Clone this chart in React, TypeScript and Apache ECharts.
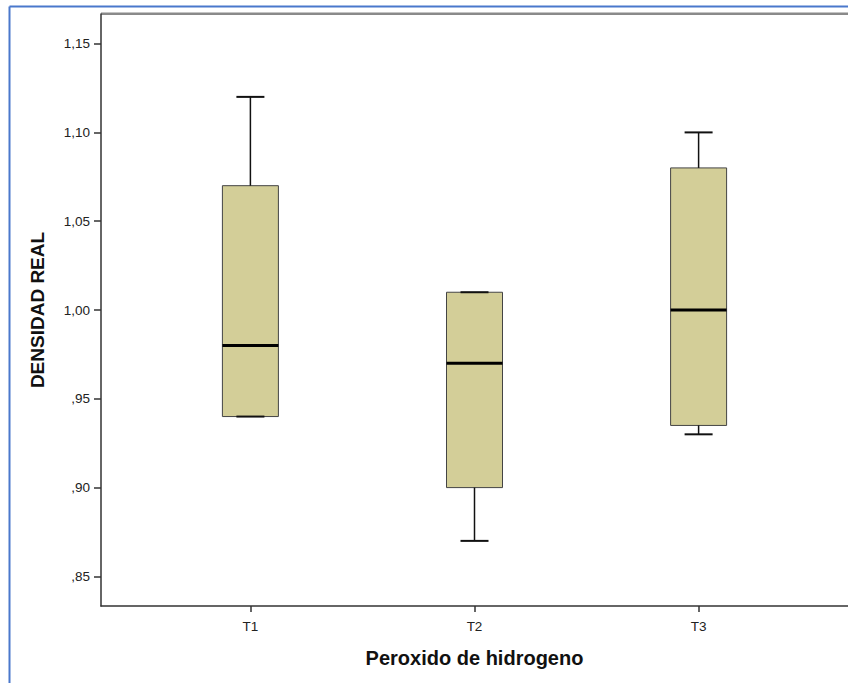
import React, { useEffect, useRef } from "react";
import * as echarts from "echarts";

// ---- data ----
const categories = ["T1", "T2", "T3"];
const whiskerLow = [0.94, 0.87, 0.93];
const q1 = [0.94, 0.9, 0.935];
const median = [0.98, 0.97, 1.0];
const q3 = [1.07, 1.01, 1.08];
const whiskerHigh = [1.12, 1.01, 1.1];

const yTicks = [0.85, 0.9, 0.95, 1.0, 1.05, 1.1, 1.15];
const yTickLabels = [",85", ",90", ",95", "1,00", "1,05", "1,10", "1,15"];

const xTitle = "Peroxido de hidrogeno";
const yTitle = "DENSIDAD REAL";

// layout: categories placed at 0.2, 0.5, 0.8 of the plot width
const SLOT_COUNT = 11;
const slotOf = [2, 5, 8];

const FONT = "'Liberation Sans', Arial, sans-serif";

export default function App() {
  const ref = useRef<HTMLDivElement>(null);

  useEffect(() => {
    if (!ref.current) return;
    const chart = echarts.init(ref.current, undefined, { renderer: "svg" });

    const slots: string[] = Array(SLOT_COUNT).fill("");
    categories.forEach((c, i) => (slots[slotOf[i]] = c));

    const data = categories.map((_, i) => [
      slotOf[i],
      whiskerLow[i],
      q1[i],
      median[i],
      q3[i],
      whiskerHigh[i],
    ]);

    const BOX_HALF = 28;
    const CAP_HALF = 14;

    const option: any = {
      animation: false,
      backgroundColor: "#ffffff",
      grid: { left: 101, top: 14, width: 750, height: 592 },
      xAxis: {
        type: "category",
        data: slots,
        boundaryGap: false,
        axisLine: { show: true, lineStyle: { color: "#333333", width: 1.5 } },
        axisTick: {
          show: true,
          length: 6,
          interval: (_i: number, v: string) => v !== "",
          lineStyle: { color: "#333333", width: 1.5 },
        },
        axisLabel: {
          interval: (_i: number, v: string) => v !== "",
          fontSize: 13.5,
          color: "#222222",
          fontFamily: FONT,
          margin: 13,
        },
        splitLine: { show: false },
        name: xTitle,
        nameLocation: "middle",
        nameGap: 42,
        nameTextStyle: {
          fontSize: 20,
          fontWeight: "bold",
          color: "#111111",
          fontFamily: FONT,
        },
      },
      yAxis: {
        type: "value",
        min: 0.85 - 1 / 60,
        max: 1.15 + 1 / 60,
        axisLine: { show: true, lineStyle: { color: "#333333", width: 1.5 } },
        axisTick: {
          show: true,
          length: 7,
          customValues: yTicks,
          lineStyle: { color: "#333333", width: 1.5 },
        },
        axisLabel: {
          customValues: yTicks,
          formatter: (v: number) => {
            const idx = yTicks.findIndex((t) => Math.abs(t - v) < 1e-6);
            return idx >= 0 ? yTickLabels[idx] : "";
          },
          fontSize: 13.5,
          color: "#222222",
          fontFamily: FONT,
          margin: 11,
        },
        splitLine: { show: false },
        name: yTitle,
        nameLocation: "middle",
        nameGap: 54,
        nameTextStyle: {
          fontSize: 19,
          fontWeight: "bold",
          color: "#111111",
          fontFamily: FONT,
        },
      },
      graphic: [
        {
          type: "line",
          shape: { x1: 101, y1: 13.8, x2: 848, y2: 13.8 },
          style: { stroke: "#8a8a8a", lineWidth: 2.5 },
          silent: true,
        },
        {
          type: "line",
          shape: { x1: 9.5, y1: 6.5, x2: 848, y2: 6.5 },
          style: { stroke: "#4a78cc", lineWidth: 2 },
          silent: true,
        },
        {
          type: "line",
          shape: { x1: 9.5, y1: 6.5, x2: 9.5, y2: 683 },
          style: { stroke: "#4a78cc", lineWidth: 2 },
          silent: true,
        },
      ],
      series: [
        {
          type: "custom",
          encode: { x: 0, y: [1, 2, 3, 4, 5] },
          data,
          renderItem: (_params: any, api: any) => {
            const x = api.value(0);
            const pLo = api.coord([x, api.value(1)]);
            const pQ1 = api.coord([x, api.value(2)]);
            const pMed = api.coord([x, api.value(3)]);
            const pQ3 = api.coord([x, api.value(4)]);
            const pHi = api.coord([x, api.value(5)]);
            const cx = pMed[0];
            return {
              type: "group",
              children: [
                {
                  type: "rect",
                  shape: {
                    x: cx - BOX_HALF,
                    y: pQ3[1],
                    width: BOX_HALF * 2,
                    height: pQ1[1] - pQ3[1],
                  },
                  style: { fill: "#d3ce98", stroke: "#444444", lineWidth: 1 },
                },
                {
                  type: "line",
                  shape: { x1: cx, y1: pHi[1], x2: cx, y2: pQ3[1] },
                  style: { stroke: "#111111", lineWidth: 1.5 },
                },
                {
                  type: "line",
                  shape: { x1: cx, y1: pQ1[1], x2: cx, y2: pLo[1] },
                  style: { stroke: "#111111", lineWidth: 1.5 },
                },
                {
                  type: "line",
                  shape: { x1: cx - CAP_HALF, y1: pHi[1], x2: cx + CAP_HALF, y2: pHi[1] },
                  style: { stroke: "#111111", lineWidth: 2 },
                },
                {
                  type: "line",
                  shape: { x1: cx - CAP_HALF, y1: pLo[1], x2: cx + CAP_HALF, y2: pLo[1] },
                  style: { stroke: "#111111", lineWidth: 2 },
                },
                {
                  type: "line",
                  shape: { x1: cx - BOX_HALF, y1: pMed[1], x2: cx + BOX_HALF, y2: pMed[1] },
                  style: { stroke: "#000000", lineWidth: 3 },
                },
              ],
            };
          },
        },
      ],
    };

    chart.setOption(option);
    return () => chart.dispose();
  }, []);

  return (
    <div
      ref={ref}
      style={{ position: "absolute", left: 0, top: 0, width: 848, height: 683 }}
    />
  );
}
